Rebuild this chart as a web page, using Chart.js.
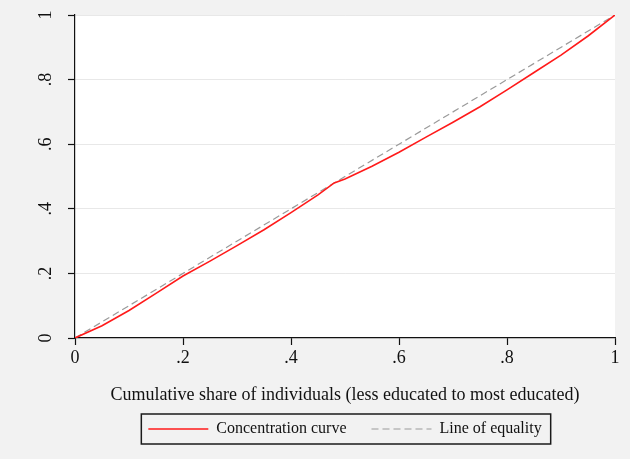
<!DOCTYPE html>
<html>
<head>
<meta charset="utf-8">
<script src="https://cdn.jsdelivr.net/npm/chart.js@4.4.1/dist/chart.umd.min.js"></script>
<style>
  html, body { margin: 0; padding: 0; background: #f2f2f2; }
  #wrap { width: 630px; height: 459px; }
</style>
</head>
<body>
<div id="wrap"><canvas id="concChart" width="630" height="459"></canvas></div>
<script>
// cumulative share of individuals (x) and concentration curve values (y)
const cumShare = [0, 0.05, 0.1, 0.15, 0.2, 0.25, 0.3, 0.35, 0.4, 0.45, 0.48, 0.5, 0.55, 0.6, 0.65, 0.7, 0.75, 0.8, 0.85, 0.9, 0.95, 1];
const concentration = [0, 0.038, 0.085, 0.138, 0.192, 0.238, 0.286, 0.335, 0.388, 0.443, 0.48, 0.492, 0.532, 0.575, 0.622, 0.668, 0.716, 0.768, 0.822, 0.876, 0.935, 1];
const equalityX = [0, 1];
const equalityY = [0, 1];

const xTickLabels = ['0', '.2', '.4', '.6', '.8', '1'];
const yTickLabels = ['0', '.2', '.4', '.6', '.8', '1'];
const xTitle = 'Cumulative share of individuals (less educated to most educated)';
const seriesNames = ['Concentration curve', 'Line of equality'];

const serif = "'Liberation Serif', 'Times New Roman', serif";

// white plot area + box round the legend
const backdrop = {
    id: 'backdrop',
    beforeDraw(chart) {
        const { ctx, chartArea: a } = chart;
        ctx.save();
        ctx.fillStyle = '#ffffff';
        ctx.fillRect(a.left, a.top, a.right - a.left, a.bottom - a.top);
        ctx.restore();
    },
    afterDraw(chart) {
        const hb = chart.legend.legendHitBoxes;
        if (!hb || !hb.length) return;
        const first = hb[0], last = hb[hb.length - 1];
        const ctx = chart.ctx;
        ctx.save();
        ctx.strokeStyle = '#1a1a1a';
        ctx.lineWidth = 1.5;
        ctx.strokeRect(first.left - 7, first.top - 7,
            last.left + last.width + 9 - (first.left - 7), first.height + 14);
        ctx.restore();
    }
};

function drawChart() {
    const ctx = document.getElementById('concChart').getContext('2d');

    window.myChart = new Chart(ctx, {
        type: 'line',
        data: {
            datasets: [
                {
                    label: seriesNames[0],
                    data: cumShare.map((x, i) => ({ x: x, y: concentration[i] })),
                    borderColor: '#ff1a1a',
                    backgroundColor: '#ff1a1a',
                    borderWidth: 1.6,
                    pointRadius: 0,
                    pointStyle: 'line',
                    fill: false
                },
                {
                    label: seriesNames[1],
                    data: equalityX.map((x, i) => ({ x: x, y: equalityY[i] })),
                    borderColor: '#9a9a9a',
                    backgroundColor: '#9a9a9a',
                    borderWidth: 1.2,
                    borderDash: [7, 4],
                    pointRadius: 0,
                    pointStyle: 'line',
                    fill: false
                }
            ]
        },
        options: {
            responsive: false,
            animation: false,
            layout: { padding: { top: 15, right: 15, left: 0, bottom: 12 } },
            scales: {
                x: {
                    type: 'linear',
                    min: 0,
                    max: 1,
                    afterBuildTicks: s => { s.ticks = xTickLabels.map((t, i) => ({ value: i * 0.2 })); },
                    ticks: {
                        callback: (v, i) => xTickLabels[i],
                        font: { family: serif, size: 18 },
                        color: '#111',
                        padding: 2,
                        maxRotation: 0
                    },
                    grid: { color: 'transparent', tickColor: '#111', tickLength: 7, tickWidth: 1.2 },
                    border: { display: true, color: '#111', width: 1.2 },
                    title: {
                        display: true,
                        text: xTitle,
                        font: { family: serif, size: 18 },
                        color: '#111',
                        padding: { top: 0, bottom: -9.8 }
                    },
                    afterFit: s => { s.height = 58; s.paddingLeft = 0; s.paddingRight = 0; }
                },
                y: {
                    type: 'linear',
                    min: 0,
                    max: 1,
                    afterBuildTicks: s => { s.ticks = yTickLabels.map((t, i) => ({ value: i * 0.2 })); },
                    ticks: {
                        callback: (v, i) => yTickLabels[i],
                        font: { family: serif, size: 18 },
                        color: '#111',
                        padding: 15,
                        minRotation: 90,
                        maxRotation: 90,
                        crossAlign: 'center'
                    },
                    grid: {
                        color: c => (c.index === 0 ? 'transparent' : '#e8e8e8'),
                        tickColor: '#111',
                        tickLength: 7,
                        tickWidth: 1.2
                    },
                    border: { display: true, color: '#111', width: 1.2 },
                    afterFit: s => { s.width = 75; s.paddingTop = 0; s.paddingBottom = 0; }
                }
            },
            plugins: {
                legend: {
                    position: 'bottom',
                    fullSize: false,
                    labels: {
                        usePointStyle: true,
                        pointStyle: 'line',
                        pointStyleWidth: 60,
                        padding: 25,
                        font: { family: serif, size: 16 },
                        color: '#111',
                        generateLabels: chart =>
                            Chart.defaults.plugins.legend.labels.generateLabels(chart).map((item, i) => {
                                const ds = chart.data.datasets[i];
                                item.lineDash = ds.borderDash || [];
                                item.lineWidth = ds.borderWidth;
                                item.strokeStyle = ds.borderColor;
                                return item;
                            })
                    }
                },
                tooltip: { enabled: false }
            }
        },
        plugins: [backdrop]
    });
}

document.addEventListener('DOMContentLoaded', drawChart);
</script>
</body>
</html>
